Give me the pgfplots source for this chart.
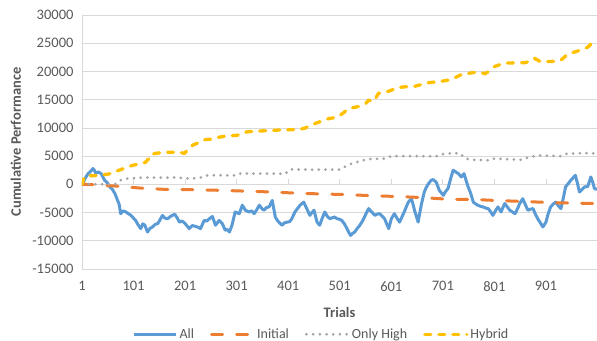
\documentclass[border=0pt]{standalone}
\usepackage{pgfplots}
\pgfplotsset{compat=1.18}
\usepackage{fontspec}
\setmainfont{Carlito}
\definecolor{cAll}{HTML}{5B9BD5}
\definecolor{cInit}{HTML}{ED7D31}
\definecolor{cHigh}{HTML}{A5A5A5}
\definecolor{cHyb}{HTML}{FFC000}
\definecolor{gridc}{HTML}{D9D9D9}
\definecolor{txt}{HTML}{595959}
\begin{document}
\begin{tikzpicture}
\begin{axis}[name=ax, scale only axis, width=515pt, height=254pt,
 xmin=1, xmax=1000, ymin=-15000, ymax=30000,
 xtick={1,101,...,901}, ytick={-15000,-10000,...,30000},
 scaled y ticks=false, scaled x ticks=false,
 axis x line=bottom, axis y line=left,
 axis line style={draw=gridc, line width=0.75pt, -},
 ymajorgrids, grid style={draw=gridc, line width=0.75pt},
 major tick length=0pt,
 /pgf/number format/assume math mode=true, /pgf/number format/1000 sep={},
 ticklabel style={font=\fontsize{14.5}{16}\selectfont, text=txt},
 yticklabel style={xshift=-5pt},
 xticklabel style={yshift=-9pt},
 xlabel={Trials}, ylabel={Cumulative Performance},
 label style={font=\fontsize{14.5}{16}\selectfont\bfseries, text=txt},
 xlabel style={at={(axis description cs:0.5,-0.189)}, anchor=base},
 ylabel style={at={(axis description cs:-0.1185,0.5)}, anchor=base},
 legend columns=4,
 legend style={draw=none, fill=none, at={(axis description cs:0.465,-0.257)}, anchor=center,
   font=\fontsize{14}{16}\selectfont, text=txt,
   /tikz/every even column/.append style={column sep=14pt}},
 legend image code/.code={\draw[#1] (0pt,0pt) -- (42pt,0pt);},
]
\pgfplotsinvokeforeach{101,201,301,401,501,601,701,801,901}{
  \draw[gridc, line width=0.75pt] (axis cs:#1,0) -- ++(0pt,5pt);
}
\addplot[draw=cAll, line width=3pt, line join=round] coordinates {
(1,0)(3,250)(8,1200)(13,1900)(18,2300)(22,2800)(25,2500)(28,1950)(33,2200)(38,1900)(45,700)(50,300)(55,-450)(60,-900)(65,-1650)(70,-2850)(73,-3500)(76,-5200)(81,-4700)(86,-4900)(91,-5200)(96,-5500)(100,-5900)(105,-6400)(110,-7200)(115,-7850)(119,-7000)(123,-7250)(128,-8450)(133,-7800)(138,-7550)(143,-7100)(148,-6950)(153,-6200)(157,-5500)(162,-6000)(167,-6100)(174,-5600)(181,-5300)(186,-6000)(190,-6700)(195,-6500)(200,-6850)(205,-7400)(209,-7850)(215,-7300)(221,-7450)(226,-7600)(231,-7850)(235,-7000)(238,-6400)(243,-6500)(248,-6100)(254,-5700)(260,-7250)(267,-6400)(273,-6950)(279,-8150)(283,-8000)(287,-8450)(292,-7250)(298,-4900)(306,-5200)(312,-3700)(318,-4600)(325,-4900)(330,-4700)(335,-5200)(340,-4500)(345,-3700)(350,-4300)(354,-4600)(359,-4100)(364,-4000)(370,-2850)(373,-4300)(376,-5800)(380,-6400)(383,-6700)(389,-7250)(394,-6800)(399,-6700)(404,-6600)(408,-6100)(414,-4900)(419,-4300)(424,-3700)(431,-3150)(437,-4300)(443,-5500)(447,-5000)(451,-4600)(457,-6700)(462,-7250)(467,-6000)(472,-4900)(477,-5700)(482,-6100)(487,-5900)(491,-5800)(496,-6100)(501,-6200)(505,-6400)(510,-7000)(515,-7850)(519,-8600)(522,-9050)(526,-8700)(530,-8450)(535,-7800)(540,-7250)(545,-6500)(549,-5800)(553,-5000)(557,-4300)(563,-4900)(569,-5500)(573,-5300)(578,-5200)(583,-5600)(588,-6100)(592,-7000)(596,-7850)(601,-6100)(607,-5200)(612,-6000)(617,-6700)(622,-5700)(626,-4900)(630,-4000)(634,-3150)(640,-2550)(643,-3500)(646,-4600)(650,-5800)(653,-6700)(656,-5200)(659,-3700)(662,-2500)(665,-1350)(669,-500)(673,100)(678,700)(682,850)(688,400)(691,-300)(694,-1050)(698,-1500)(702,-1950)(706,-1300)(711,-750)(714,300)(717,1300)(721,2500)(726,2200)(731,1900)(737,1300)(742,1900)(746,700)(750,-450)(754,-1350)(757,-2200)(760,-3150)(765,-3500)(769,-3700)(774,-3900)(779,-4000)(784,-4200)(789,-4300)(794,-4900)(798,-5500)(803,-4700)(808,-4000)(814,-4900)(818,-4000)(821,-3400)(826,-4000)(831,-4600)(836,-4900)(841,-5200)(846,-4300)(850,-3400)(856,-2550)(861,-3600)(866,-4600)(871,-4400)(876,-4300)(880,-5200)(885,-6100)(890,-6800)(895,-7550)(901,-6700)(905,-5300)(910,-4000)(915,-3500)(920,-3150)(925,-3800)(930,-4300)(935,-2300)(939,-450)(944,100)(949,700)(954,1200)(958,1600)(962,200)(966,-1350)(971,-900)(976,-450)(982,-400)(988,1300)(992,300)(995,-750)(1000,-900)
};
\addlegendentry{All}
\addplot[draw=cInit, line width=3pt, line cap=round, dash pattern=on 11pt off 14pt] coordinates {
(1,0)(30,-100)(65,-300)(113,-650)(163,-900)(215,-950)(263,-1050)(316,-1200)(366,-1350)(414,-1550)(462,-1700)(508,-1800)(560,-2000)(610,-2150)(663,-2350)(713,-2650)(765,-2700)(814,-2900)(862,-3050)(914,-3250)(966,-3350)(1000,-3400)
};
\addlegendentry{Initial}
\addplot[draw=cHigh, line width=3pt, line cap=round, dash pattern=on 0pt off 6.7pt] coordinates {
(1,0)(20,50)(40,0)(65,0)(75,700)(85,1000)(120,1200)(186,1200)(212,1000)(231,1200)(245,1600)(300,1600)(305,1900)(379,1900)(394,1800)(405,2650)(443,2600)(500,2600)(520,3550)(553,4450)(590,4550)(601,5000)(650,5000)(688,4950)(695,5300)(721,5550)(735,5450)(742,4700)(754,4350)(794,4250)(800,4550)(852,4350)(870,4850)(889,5100)(930,5000)(940,5400)(976,5550)(1000,5450)
};
\addlegendentry{Only High}
\addplot[draw=cHyb, line width=3.3pt, line cap=round, dash pattern=on 6pt off 8pt] coordinates {
(1,0)(5,1200)(10,1600)(20,1500)(35,1600)(51,1800)(60,2000)(70,2400)(82,2800)(95,3250)(110,3600)(124,3900)(130,4500)(134,5300)(145,5500)(161,5700)(186,5700)(200,5500)(205,6000)(209,6600)(220,7100)(231,7500)(240,7900)(250,8000)(263,8300)(277,8500)(290,8600)(302,8700)(312,9000)(321,9300)(347,9450)(379,9600)(412,9700)(424,9750)(435,10000)(443,10450)(457,10900)(470,11350)(480,11650)(490,11800)(499,12050)(510,12800)(518,13400)(538,13800)(550,14200)(557,14900)(567,14700)(576,16100)(596,16500)(615,17150)(630,17300)(648,17400)(660,17700)(667,17950)(698,18250)(717,18550)(727,19000)(737,19450)(764,19850)(775,19800)(783,19600)(795,20300)(802,20900)(815,21300)(827,21500)(860,21550)(870,21800)(879,22300)(891,21700)(918,21800)(930,22000)(943,23050)(962,23600)(976,24050)(982,24300)(991,25100)(1000,25500)
};
\addlegendentry{Hybrid}
\end{axis}
\pgfresetboundingbox
\path[use as bounding box] ([xshift=-82pt,yshift=15pt]ax.north west) rectangle ([yshift=-72pt]ax.south east);
\end{tikzpicture}
\end{document}
